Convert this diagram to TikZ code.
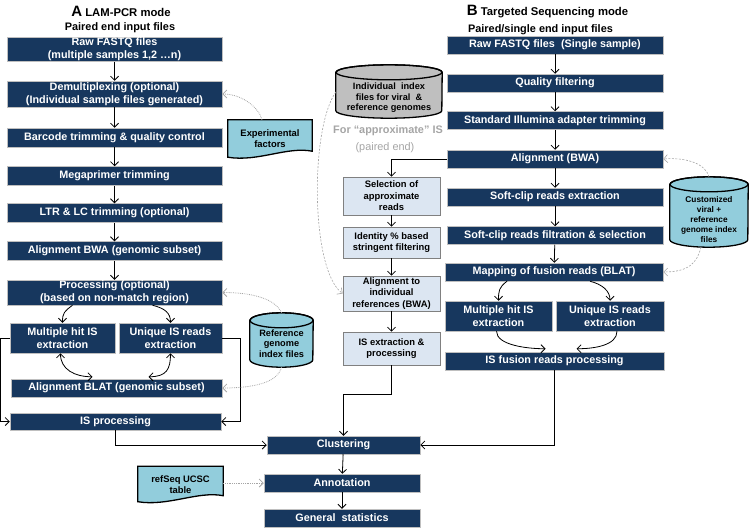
\documentclass[tikz,border=0pt]{standalone}
\usepackage{fontspec}
\setmainfont{Liberation Sans}
\usepackage{tikz}
\usetikzlibrary{arrows.meta,backgrounds,calc}
\definecolor{navybox}{RGB}{23,55,94}
\definecolor{palebox}{RGB}{220,230,242}
\definecolor{skyfill}{RGB}{146,205,220}
\definecolor{greyfill}{RGB}{191,191,191}
\definecolor{hintgrey}{RGB}{165,165,165}
\tikzset{
  darkbox/.style={rectangle,fill=navybox,draw=gray!50,line width=0.5pt,text=white,align=center,inner sep=0pt,font=\bfseries\fontsize{10.8}{12.6}\selectfont},
  lightbox/.style={rectangle,fill=palebox,draw=gray,line width=0.7pt,align=center,inner sep=0pt,font=\bfseries\fontsize{9.4}{11.5}\selectfont},
  dbnode/.style={rectangle,inner sep=0pt,align=center,font=\bfseries\fontsize{9.2}{10.5}\selectfont},
  docnode/.style={rectangle,inner sep=0pt,align=center,font=\bfseries\fontsize{9.4}{11}\selectfont},
  shapeline/.style={line width=1.3pt,black},
  flowarr/.style={-{Straight Barb[length=4pt,width=8pt]},line width=0.8pt},
  twoarr/.style={{Straight Barb[length=4pt,width=8pt]}-{Straight Barb[length=4pt,width=8pt]},line width=0.8pt},
  dotarr/.style={-{Straight Barb[length=4pt,width=8pt]},hintgrey,densely dotted,line width=0.8pt},
  dasharr/.style={-{Straight Barb[length=4pt,width=8pt]},hintgrey,dash pattern=on 2pt off 1.5pt,line width=0.6pt}
}
% database cylinder round a node: name, fill, half width, radius of the ends, top above the node
\newcommand{\dbshape}[5]{%
  \filldraw[shapeline,fill=#2] ([yshift=#5-#4]#1.north west) -- ([yshift=#4]#1.south west)
    arc[start angle=180,end angle=360,x radius=#3,y radius=#4]
    -- ([yshift=#5-#4]#1.north east) arc[start angle=0,end angle=180,x radius=#3,y radius=#4] -- cycle;
  \draw[shapeline] ([yshift=#5-#4]#1.north) ellipse[x radius=#3,y radius=#4];
}
% document sheet with wavy lower edge
\newcommand{\docshape}[1]{%
  \filldraw[shapeline,fill=skyfill] (#1.north west) -- (#1.north east) -- ([yshift=7pt]#1.south east)
    .. controls ([xshift=-25pt,yshift=12pt]#1.south east) and ([xshift=30pt,yshift=-4pt]#1.south west) .. ([yshift=1pt]#1.south west) -- cycle;
}

\begin{document}
\begin{tikzpicture}[x=1pt,y=-1pt]
  \useasboundingbox (0,0) rectangle (749,527);
  % mode A
  \node[font=\bfseries\fontsize{11.3}{13}\selectfont] (titA) at (121,11) {{\fontsize{15}{15}\selectfont A} LAM-PCR mode};
  \node[font=\bfseries\fontsize{10.9}{13}\selectfont] (inA) at (120,28) {Paired end input files};
  \node[darkbox,minimum width=215pt,minimum height=24pt] (rawA) at (114.5,49.5) {Raw FASTQ files\\(multiple samples 1,2 …n)};
  \node[darkbox,minimum width=215pt,minimum height=26pt] (demux) at (114.5,94) {Demultiplexing (optional)\\(Individual sample files generated)};
  \node[darkbox,minimum width=215pt,minimum height=19pt] (barcode) at (114.5,137.5) {Barcode trimming \& quality control};
  \node[darkbox,minimum width=215pt,minimum height=19pt] (mega) at (114.5,176) {Megaprimer trimming};
  \node[darkbox,minimum width=215pt,minimum height=19pt] (ltr) at (114.5,213) {LTR \& LC trimming (optional)};
  \node[darkbox,minimum width=215pt,minimum height=19pt] (bwaA) at (114.5,251) {Alignment BWA (genomic subset)};
  \node[darkbox,minimum width=215pt,minimum height=25pt] (procA) at (114.5,292.5) {Processing (optional)\\(based on non-match region)};
  \node[darkbox,minimum width=105pt,minimum height=30pt] (multiA) at (62.5,338) {Multiple hit IS\\extraction};
  \node[darkbox,minimum width=103pt,minimum height=30pt] (uniqA) at (170.5,338) {Unique IS reads\\extraction};
  \node[darkbox,minimum width=211pt,minimum height=18pt] (blatA) at (116.5,388) {Alignment BLAT (genomic subset)};
  \node[darkbox,minimum width=211pt,minimum height=17pt] (isprocA) at (115.5,421.5) {IS processing};
  \node[docnode,minimum width=84pt,minimum height=38pt] (expf) at (270,139) {Experimental\\factors};
  \node[dbnode,minimum width=63pt,minimum height=47pt] (refcyl) at (281.5,343.5) {Reference\\genome\\index files};
  \node[docnode,minimum width=85pt,minimum height=36pt] (refseq) at (180.5,484.5) {refSeq UCSC\\table};
  % mode B
  \node[font=\bfseries\fontsize{11.3}{13}\selectfont] (titB) at (547.5,12) {{\fontsize{15}{15}\selectfont B} Targeted Sequencing mode};
  \node[font=\bfseries\fontsize{10.9}{13}\selectfont] (inB) at (540.5,30) {Paired/single end input files};
  \node[darkbox,minimum width=216pt,minimum height=18pt] (rawB) at (555,45) {Raw FASTQ files\ \ (Single sample)};
  \node[darkbox,minimum width=216pt,minimum height=18pt] (qual) at (555,83) {Quality filtering};
  \node[darkbox,minimum width=216pt,minimum height=18pt] (illum) at (555,120.5) {Standard Illumina adapter trimming};
  \node[darkbox,minimum width=216pt,minimum height=18pt] (bwaB) at (555,159) {Alignment (BWA)};
  \node[darkbox,minimum width=216pt,minimum height=18pt] (softx) at (555,197) {Soft-clip reads extraction};
  \node[darkbox,minimum width=216pt,minimum height=18pt] (softf) at (555,235.5) {Soft-clip reads filtration \& selection};
  \node[darkbox,minimum width=218pt,minimum height=18pt] (mapB) at (554,272) {Mapping of fusion reads (BLAT)};
  \node[darkbox,minimum width=107pt,minimum height=30pt] (multiB) at (498.5,316) {Multiple hit IS\\extraction};
  \node[darkbox,minimum width=108pt,minimum height=30pt] (uniqB) at (610,316) {Unique IS reads\\extraction};
  \node[darkbox,minimum width=219pt,minimum height=18pt] (fusB) at (554.5,361) {IS fusion reads processing};
  \node[dbnode,minimum width=106pt,minimum height=40pt] (indcyl) at (389,98) {Individual\ \ index\\files for viral\ \ \&\\reference genomes};
  \node[font=\bfseries\fontsize{10.9}{13}\selectfont,text=hintgrey] (approx) at (388,131) {For “approximate” IS};
  \node[font=\fontsize{10.9}{13}\selectfont,text=hintgrey] (pairend) at (385,148) {(paired end)};
  \node[lightbox,minimum width=97pt,minimum height=38pt] (selB) at (391.5,196) {Selection of\\approximate\\reads};
  \node[lightbox,minimum width=97pt,minimum height=31pt] (identB) at (391.5,242.5) {Identity \% based\\stringent filtering};
  \node[lightbox,minimum width=97pt,minimum height=35pt] (alnB) at (391.5,293.5) {Alignment to\\individual\\references (BWA)};
  \node[lightbox,minimum width=97pt,minimum height=33pt] (isexB) at (391.5,348.5) {IS extraction \&\\processing};
  \node[dbnode,font=\bfseries\fontsize{8.3}{10}\selectfont,minimum width=78pt,minimum height=54pt] (custcyl) at (709,220) {Customized\\viral +\\reference\\genome index\\files};
  % common part
  \node[darkbox,minimum width=153pt,minimum height=18pt] (clust) at (343.5,445) {Clustering};
  \node[darkbox,minimum width=156pt,minimum height=18pt] (annot) at (342,483) {Annotation};
  \node[darkbox,minimum width=156pt,minimum height=18pt] (stats) at (342,518) {General\ \ statistics};

  \begin{pgfonlayer}{background}
    \dbshape{indcyl}{greyfill}{53pt}{7.5pt}{13pt}
    \dbshape{refcyl}{skyfill}{31.5pt}{7.5pt}{7pt}
    \dbshape{custcyl}{skyfill}{39pt}{7.5pt}{16pt}
    \docshape{expf}
    \docshape{refseq}
  \end{pgfonlayer}

  % flow of mode A
  \draw[flowarr] (rawA) -- (demux);
  \draw[flowarr] (demux) -- (barcode);
  \draw[flowarr] (barcode) -- (mega);
  \draw[flowarr] (mega) -- (ltr);
  \draw[flowarr] (ltr) -- (bwaA);
  \draw[flowarr] (bwaA) -- (procA);
  \draw[flowarr] ([xshift=-42pt]procA.south) .. controls +(-8,6) and +(0,-10) .. (multiA.north);
  \draw[flowarr] ([xshift=38pt]procA.south) .. controls +(12,3) and +(0,-10) .. (uniqA.north);
  \draw[twoarr] ([xshift=-2pt]multiA.south) .. controls +(0,16) and +(-18,0) .. ([xshift=-24pt,yshift=2pt]blatA.north);
  \draw[twoarr] (uniqA.south) .. controls +(0,16) and +(18,0) .. ([xshift=32pt,yshift=2pt]blatA.north);
  \draw[flowarr] (multiA.west) -- ++(-9,0) |- (isprocA.west);
  \draw[flowarr] (uniqA.east) -- ++(18,0) |- (isprocA.east);
  \draw[flowarr] (isprocA.south) |- (clust.west);
  \draw[dotarr] ([xshift=-8pt]expf.north) .. controls +(-3,-12) and +(20,0) .. (demux.east);
  \draw[dotarr] ([yshift=7pt]refcyl.north) .. controls +(-6,-14) and +(30,0) .. (procA.east);
  \draw[dotarr] (refcyl.south) .. controls +(-4,16) and +(30,0) .. (blatA.east);
  % flow of mode B
  \draw[flowarr] (rawB) -- (qual);
  \draw[flowarr] (qual) -- (illum);
  \draw[flowarr] (illum) -- (bwaB);
  \draw[flowarr] (bwaB) -- (softx);
  \draw[flowarr] (softx) -- (softf);
  \draw[flowarr] (softf) -- (mapB);
  \draw[flowarr] ([xshift=-47pt]mapB.south) .. controls +(-8,6) and +(0,-10) .. (multiB.north);
  \draw[flowarr] ([xshift=36pt]mapB.south) .. controls +(12,3) and +(0,-10) .. (uniqB.north);
  \draw[flowarr] ([xshift=-2pt]multiB.south) .. controls +(0,14) and +(-18,0) .. ([xshift=-9pt,yshift=3pt]fusB.north);
  \draw[flowarr] ([xshift=7pt]uniqB.south) .. controls +(0,14) and +(18,0) .. ([xshift=22pt,yshift=3pt]fusB.north);
  \draw[flowarr] (fusB.south) |- (clust.east);
  \draw[flowarr] (bwaB.west) -| (selB.north);
  \draw[flowarr] (selB) -- (identB);
  \draw[flowarr] (identB) -- (alnB);
  \draw[flowarr] (alnB) -- (isexB);
  \draw[flowarr] (isexB.south) -- ++(0,29) -| (clust.north);
  \draw[dasharr] ([yshift=6pt]indcyl.west) .. controls +(-26,37) and +(-32,-23) .. (alnB.west);
  \draw[dasharr] ([yshift=16pt]custcyl.north) .. controls +(-3,-12) and +(25,-2) .. (bwaB.east);
  \draw[dasharr] ([xshift=-8pt]custcyl.south) .. controls +(-4,16) and +(25,0) .. (mapB.east);
  % common part
  \draw[flowarr] (clust) -- (annot);
  \draw[flowarr] (annot) -- (stats);
  \draw[dotarr] (refseq.east |- annot.west) -- (annot.west);
\end{tikzpicture}
\end{document}
